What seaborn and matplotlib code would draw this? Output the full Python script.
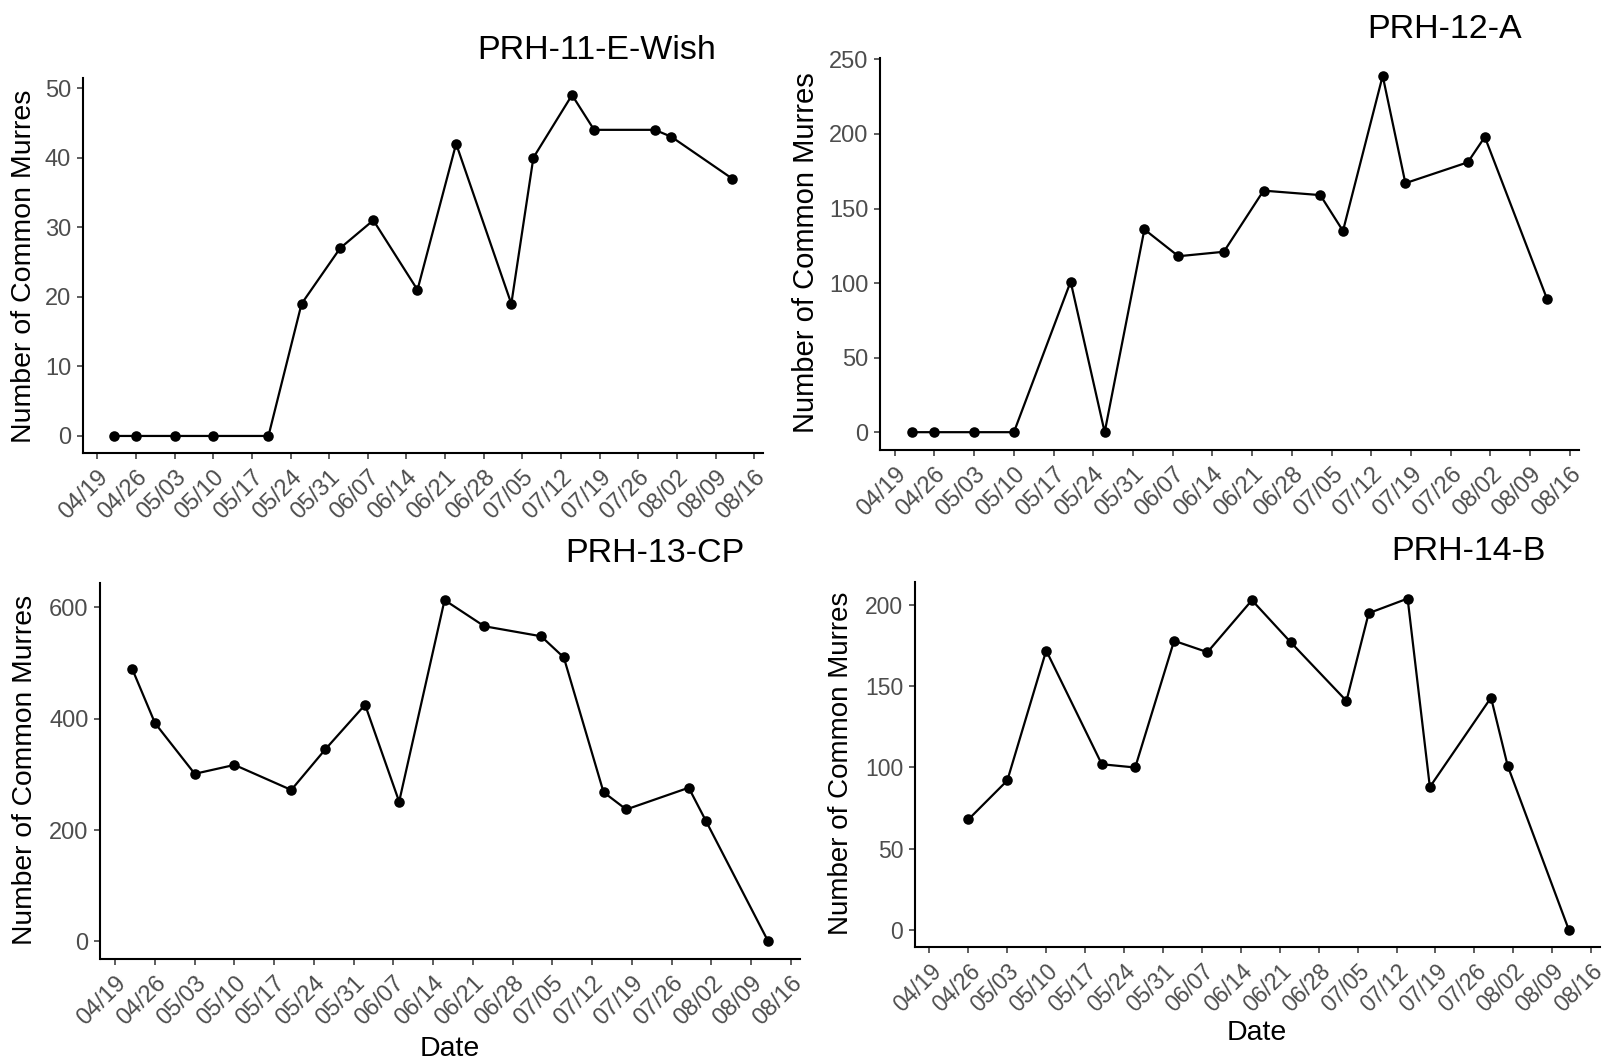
import matplotlib
matplotlib.use("Agg")
import matplotlib.pyplot as plt
import matplotlib.dates as mdates
import seaborn as sns
import pandas as pd
import numpy as np

# ---------------- data ----------------
year = "2019"
dates_a = ["04-22", "04-26", "05-03", "05-10", "05-20", "05-26", "06-02", "06-08",
           "06-16", "06-23", "07-03", "07-07", "07-14", "07-18", "07-29", "08-01", "08-12"]
dates_b = ["04-26", "05-03", "05-10", "05-20", "05-26", "06-02", "06-08",
           "06-16", "06-23", "07-03", "07-07", "07-14", "07-18", "07-29", "08-01", "08-12"]

prh11 = [0, 0, 0, 0, 0, 19, 27, 31, 21, 42, 19, 40, 49, 44, 44, 43, 37]
prh12 = [0, 0, 0, 0, 101, 0, 136, 118, 121, 162, 159, 135, 239, 167, 181, 198, 89]
prh13 = [489, 392, 301, 317, 272, 345, 425, 251, 613, 566, 548, 510, 268, 237, 276, 217, 0]
prh14 = [68, 92, 172, 102, 100, 178, 171, 203, 177, 141, 195, 204, 88, 143, 101, 0]

titles = ["PRH-11-E-Wish", "PRH-12-A", "PRH-13-CP", "PRH-14-B"]
x_tick_labels = ["04/19", "04/26", "05/03", "05/10", "05/17", "05/24", "05/31", "06/07",
                 "06/14", "06/21", "06/28", "07/05", "07/12", "07/19", "07/26", "08/02",
                 "08/09", "08/16"]
y_ticks = [[0, 10, 20, 30, 40, 50],
           [0, 50, 100, 150, 200, 250],
           [0, 200, 400, 600],
           [0, 50, 100, 150, 200]]
y_label = "Number of Common Murres"
x_label = "Date"

# ---------------- style ----------------
sns.set_style("ticks")
plt.rcParams["font.family"] = ["Liberation Sans", "DejaVu Sans"]

W, H = 1608, 1061
fig = plt.figure(figsize=(W / 100, H / 100), dpi=100)

def to_dates(lst):
    return pd.to_datetime([f"{year}-{d}" for d in lst])

series = [(dates_a, prh11), (dates_a, prh12), (dates_a, prh13), (dates_b, prh14)]

# panel boxes in pixels: left, right, top, bottom
boxes = [(83, 763, 78, 453), (880, 1579, 58, 450),
         (100.5, 800, 583, 958.5), (915, 1600, 582, 946.5)]
title_pos = [(597, 59.3), (1445, 38.3), (655, 561.7), (1468, 560)]
ylab_pos = [(24, 266), (806, 253), (25, 770), (841, 763)]
ylab_size = [20.5, 21.0, 20.3, 20.0]
tick_size = [17.0, 17.0, 17.0, 16.5]
date_pos = {2: (450, 1056), 3: (1257, 1040)}

all_dates = to_dates(dates_a)
xmin = mdates.date2num(all_dates.min())
xmax = mdates.date2num(all_dates.max())
xpad = 0.05 * (xmax - xmin)
tick_dates = pd.to_datetime([f"{year}-{t.replace('/', '-')}" for t in x_tick_labels])

for i, ((dl, vals), box) in enumerate(zip(series, boxes)):
    l, r, t, b = box
    ax = fig.add_axes([l / W, 1 - b / H, (r - l) / W, (b - t) / H])
    df = pd.DataFrame({"Date": to_dates(dl), "Count": vals})
    sns.lineplot(data=df, x="Date", y="Count", ax=ax, color="black", linewidth=1.6,
                 marker="o", markersize=7.6, markeredgecolor="black",
                 markerfacecolor="black", markeredgewidth=0)
    ax.set_xlim(xmin - xpad, xmax + xpad)
    ymin, ymax = min(vals), max(vals)
    ypad = 0.05 * (ymax - ymin)
    ax.set_ylim(ymin - ypad, ymax + ypad)
    ax.set_xticks(tick_dates)
    ax.set_xticklabels(x_tick_labels, rotation=45, ha="right", va="top",
                       rotation_mode="anchor")
    ax.set_yticks(y_ticks[i])
    ax.set_yticklabels([str(v) for v in y_ticks[i]])
    ax.set_xlabel("")
    ax.set_ylabel("")
    sns.despine(ax=ax)
    for s in ["left", "bottom"]:
        ax.spines[s].set_linewidth(1.5)
        ax.spines[s].set_color("black")
    ax.tick_params(axis="both", length=4.5, width=1.1, color="#333333",
                   labelcolor="#4D4D4D", labelsize=tick_size[i])
    ax.tick_params(axis="y", pad=4.0)
    ax.tick_params(axis="x", pad=5.0)

    fig.text(title_pos[i][0] / W, 1 - title_pos[i][1] / H, titles[i],
             ha="center", va="baseline", fontsize=24.5, color="black")
    fig.text(ylab_pos[i][0] / W, 1 - ylab_pos[i][1] / H, y_label, rotation=90,
             ha="center", va="center", fontsize=ylab_size[i], color="black")
    if i in date_pos:
        fig.text(date_pos[i][0] / W, 1 - date_pos[i][1] / H, x_label,
                 ha="center", va="baseline", fontsize=20.5, color="black")

fig.savefig("out.png", dpi=100, facecolor="white")
